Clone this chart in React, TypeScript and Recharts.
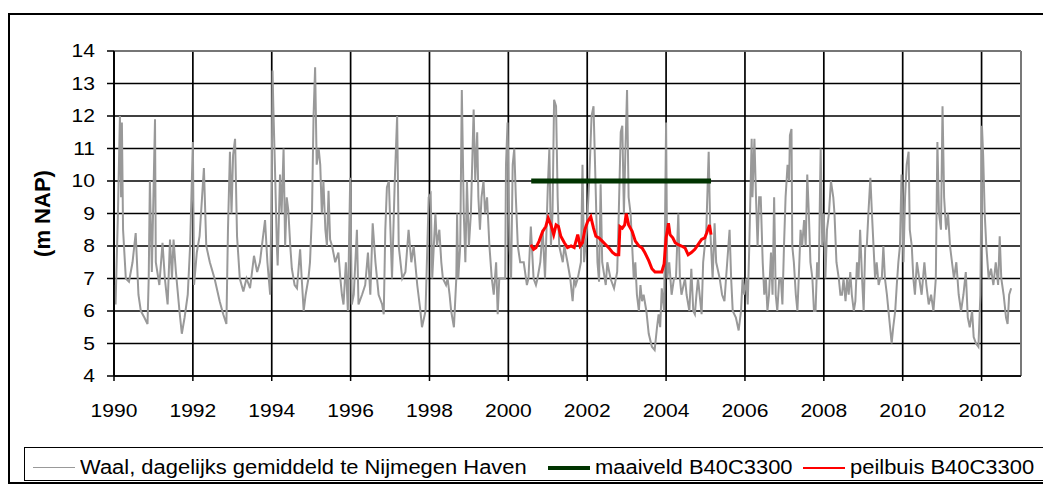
import React from 'react';
import {
  ComposedChart,
  Line,
  XAxis,
  YAxis,
  CartesianGrid,
  ReferenceLine,
  Legend,
  Customized,
} from 'recharts';

// ---------- DATA ----------
const xTicks = [1990, 1992, 1994, 1996, 1998, 2000, 2002, 2004, 2006, 2008, 2010, 2012];
const yTicks = [4, 5, 6, 7, 8, 9, 10, 11, 12, 13, 14];
const yAxisTitle = '(m NAP)';

const seriesNames = [
  'Waal, dagelijks gemiddeld te Nijmegen Haven',
  'maaiveld B40C3300',
  'peilbuis B40C3300',
];

// [year, m NAP]
const waalLevels: [number, number][] = [
  [1990.0, 6.8], [1990.04, 6.2], [1990.1, 9.0], [1990.15, 12.0], [1990.18, 9.5], [1990.2, 11.8],
  [1990.23, 8.5], [1990.3, 7.0], [1990.38, 6.9], [1990.47, 7.5], [1990.55, 8.4], [1990.62, 6.5],
  [1990.68, 6.0], [1990.77, 5.8], [1990.85, 5.6], [1990.88, 7.0], [1990.91, 10.0], [1990.96, 7.2],
  [1991.04, 11.9], [1991.06, 7.5], [1991.15, 6.8], [1991.23, 8.1], [1991.29, 7.0], [1991.36, 6.2],
  [1991.42, 8.2], [1991.47, 7.0], [1991.51, 8.2], [1991.57, 7.2], [1991.66, 6.0], [1991.72, 5.3],
  [1991.79, 5.8], [1991.87, 6.5], [1991.93, 8.0], [1992.0, 11.2], [1992.03, 6.8], [1992.1, 7.8],
  [1992.17, 8.3], [1992.28, 10.4], [1992.34, 8.0], [1992.43, 7.5], [1992.55, 7.0], [1992.68, 6.3],
  [1992.77, 5.9], [1992.85, 5.6], [1992.89, 8.5], [1992.94, 10.9], [1992.98, 9.0], [1993.02, 10.8],
  [1993.07, 11.3], [1993.12, 8.3], [1993.19, 7.0], [1993.28, 6.6], [1993.36, 7.0], [1993.45, 6.7],
  [1993.55, 7.7], [1993.63, 7.2], [1993.7, 7.5], [1993.83, 8.8], [1993.89, 7.5], [1993.96, 6.5],
  [1994.0, 10.0], [1994.02, 13.4], [1994.04, 12.3], [1994.08, 10.5], [1994.13, 8.0], [1994.15, 7.4],
  [1994.21, 10.2], [1994.25, 9.0], [1994.3, 11.0], [1994.34, 8.0], [1994.38, 9.5], [1994.42, 9.1],
  [1994.47, 8.0], [1994.51, 7.3], [1994.58, 6.8], [1994.64, 6.7], [1994.72, 7.9], [1994.76, 7.0],
  [1994.81, 6.0], [1994.86, 6.5], [1994.93, 7.0], [1994.97, 7.5], [1995.02, 9.0], [1995.06, 12.0],
  [1995.1, 13.5], [1995.14, 10.5], [1995.19, 11.0], [1995.23, 10.5], [1995.27, 9.0], [1995.31, 10.0],
  [1995.36, 8.5], [1995.4, 8.0], [1995.44, 9.7], [1995.48, 8.2], [1995.53, 8.0], [1995.61, 7.5],
  [1995.69, 7.8], [1995.74, 7.0], [1995.78, 6.5], [1995.82, 6.2], [1995.88, 7.5], [1995.93, 6.0],
  [1995.99, 10.1], [1996.03, 6.2], [1996.08, 6.5], [1996.16, 8.5], [1996.2, 6.2], [1996.29, 6.5],
  [1996.37, 6.8], [1996.44, 7.8], [1996.5, 6.5], [1996.56, 8.7], [1996.63, 7.5], [1996.71, 6.5],
  [1996.8, 6.2], [1996.84, 5.9], [1996.88, 8.5], [1996.92, 9.8], [1996.97, 10.0], [1997.01, 8.5],
  [1997.05, 7.0], [1997.12, 10.0], [1997.18, 12.0], [1997.22, 8.0], [1997.31, 7.0], [1997.39, 7.2],
  [1997.47, 8.5], [1997.54, 7.5], [1997.6, 8.0], [1997.69, 6.8], [1997.77, 6.0], [1997.81, 5.5],
  [1997.9, 6.0], [1997.98, 9.5], [1998.03, 9.6], [1998.07, 7.0], [1998.15, 9.0], [1998.19, 8.0],
  [1998.25, 8.5], [1998.3, 7.5], [1998.34, 7.0], [1998.42, 6.8], [1998.46, 7.0], [1998.51, 6.5],
  [1998.55, 6.0], [1998.62, 5.5], [1998.68, 7.0], [1998.7, 9.0], [1998.73, 7.0], [1998.78, 8.0],
  [1998.82, 12.8], [1998.87, 9.0], [1998.91, 7.5], [1998.95, 10.0], [1999.0, 8.0], [1999.05, 9.0],
  [1999.12, 12.2], [1999.16, 10.0], [1999.21, 11.5], [1999.24, 9.5], [1999.28, 8.5], [1999.32, 9.5],
  [1999.37, 10.0], [1999.41, 9.0], [1999.46, 9.5], [1999.52, 8.0], [1999.58, 7.0], [1999.63, 6.5],
  [1999.69, 7.5], [1999.73, 5.9], [1999.77, 7.0], [1999.86, 7.0], [1999.92, 7.0], [1999.94, 10.5],
  [1999.98, 11.8], [2000.03, 8.0], [2000.07, 7.0], [2000.11, 10.5], [2000.15, 11.0], [2000.19, 9.5],
  [2000.24, 8.0], [2000.3, 7.5], [2000.39, 7.5], [2000.47, 6.8], [2000.51, 7.0], [2000.57, 8.6],
  [2000.64, 7.0], [2000.7, 6.8], [2000.74, 7.0], [2000.81, 7.5], [2000.87, 8.5], [2000.93, 7.0],
  [2001.0, 9.8], [2001.04, 11.0], [2001.08, 8.0], [2001.12, 9.0], [2001.16, 12.5], [2001.21, 12.3],
  [2001.25, 9.5], [2001.29, 8.0], [2001.38, 7.5], [2001.42, 8.0], [2001.5, 7.5], [2001.57, 7.0],
  [2001.63, 6.3], [2001.67, 7.0], [2001.71, 6.8], [2001.76, 7.0], [2001.84, 7.5], [2001.88, 10.5],
  [2001.92, 7.5], [2001.99, 8.5], [2002.05, 10.0], [2002.11, 12.0], [2002.16, 12.3], [2002.22, 9.5],
  [2002.26, 7.5], [2002.3, 6.9], [2002.34, 9.9], [2002.38, 7.5], [2002.47, 6.8], [2002.51, 7.5],
  [2002.59, 7.0], [2002.68, 6.7], [2002.76, 7.2], [2002.8, 9.0], [2002.85, 11.5], [2002.89, 11.7],
  [2002.93, 9.0], [2002.97, 11.0], [2003.01, 12.8], [2003.05, 9.5], [2003.1, 9.0], [2003.14, 8.0],
  [2003.18, 7.0], [2003.22, 7.5], [2003.26, 6.5], [2003.31, 6.0], [2003.35, 6.8], [2003.39, 6.3],
  [2003.43, 6.5], [2003.5, 6.0], [2003.56, 5.3], [2003.64, 4.9], [2003.71, 4.8], [2003.77, 5.5],
  [2003.81, 5.9], [2003.85, 5.5], [2003.89, 6.7], [2003.95, 6.0], [2004.0, 11.8], [2004.03, 7.0],
  [2004.08, 7.5], [2004.14, 6.5], [2004.2, 7.0], [2004.25, 7.0], [2004.31, 9.0], [2004.35, 7.0],
  [2004.39, 6.5], [2004.48, 7.0], [2004.52, 6.5], [2004.59, 6.0], [2004.64, 7.3], [2004.69, 6.0],
  [2004.73, 5.9], [2004.77, 6.5], [2004.81, 7.0], [2004.9, 5.9], [2004.94, 7.5], [2004.98, 8.0],
  [2005.02, 8.5], [2005.08, 10.9], [2005.12, 8.5], [2005.18, 7.0], [2005.23, 8.7], [2005.27, 7.5],
  [2005.36, 7.0], [2005.42, 6.5], [2005.48, 6.3], [2005.52, 7.0], [2005.61, 8.5], [2005.65, 7.0],
  [2005.69, 6.0], [2005.77, 5.8], [2005.84, 5.4], [2005.9, 6.0], [2005.94, 7.0], [2005.98, 6.5],
  [2006.03, 7.0], [2006.07, 6.2], [2006.11, 8.0], [2006.17, 11.3], [2006.19, 9.5], [2006.24, 11.3],
  [2006.28, 9.5], [2006.32, 8.0], [2006.36, 9.5], [2006.4, 9.5], [2006.45, 7.5], [2006.49, 6.5],
  [2006.53, 7.0], [2006.57, 6.0], [2006.61, 6.5], [2006.66, 7.8], [2006.7, 6.5], [2006.74, 9.5],
  [2006.78, 6.5], [2006.82, 6.0], [2006.87, 7.0], [2006.91, 7.0], [2006.95, 6.2], [2006.99, 8.0],
  [2007.03, 9.5], [2007.08, 10.5], [2007.12, 10.0], [2007.14, 11.4], [2007.18, 11.6], [2007.2, 8.0],
  [2007.24, 7.5], [2007.29, 6.5], [2007.33, 6.0], [2007.37, 7.2], [2007.41, 8.5], [2007.45, 8.0],
  [2007.5, 8.8], [2007.54, 8.0], [2007.58, 10.2], [2007.62, 9.0], [2007.66, 7.5], [2007.71, 7.0],
  [2007.75, 6.0], [2007.79, 6.0], [2007.83, 7.5], [2007.87, 7.0], [2007.92, 11.0], [2007.96, 8.0],
  [2008.0, 9.0], [2008.04, 7.0], [2008.08, 8.5], [2008.13, 9.0], [2008.18, 10.0], [2008.24, 9.5],
  [2008.27, 9.0], [2008.32, 7.5], [2008.38, 7.0], [2008.42, 6.5], [2008.46, 6.5], [2008.5, 7.0],
  [2008.55, 6.3], [2008.59, 7.0], [2008.63, 6.5], [2008.67, 7.2], [2008.71, 6.5], [2008.76, 6.0],
  [2008.8, 6.3], [2008.84, 7.5], [2008.88, 7.0], [2008.92, 8.5], [2008.97, 7.0], [2009.01, 6.0],
  [2009.05, 8.0], [2009.09, 8.0], [2009.13, 9.0], [2009.18, 10.1], [2009.22, 9.0], [2009.26, 8.0],
  [2009.3, 7.0], [2009.34, 7.5], [2009.39, 6.8], [2009.43, 7.0], [2009.47, 7.0], [2009.51, 8.0],
  [2009.55, 7.0], [2009.6, 6.5], [2009.64, 6.0], [2009.68, 5.5], [2009.72, 5.0], [2009.76, 5.5],
  [2009.81, 6.0], [2009.85, 6.8], [2009.89, 7.5], [2009.93, 8.0], [2009.97, 10.2], [2010.02, 7.5],
  [2010.06, 9.5], [2010.1, 10.5], [2010.15, 10.9], [2010.18, 8.5], [2010.23, 8.0], [2010.27, 7.0],
  [2010.31, 6.5], [2010.36, 7.5], [2010.42, 7.0], [2010.48, 6.5], [2010.55, 7.5], [2010.6, 6.8],
  [2010.66, 6.2], [2010.72, 6.5], [2010.78, 6.0], [2010.84, 7.0], [2010.88, 11.2], [2010.92, 9.0],
  [2010.97, 8.5], [2011.01, 12.3], [2011.05, 9.5], [2011.1, 8.5], [2011.15, 9.0], [2011.2, 8.0],
  [2011.25, 7.5], [2011.3, 7.0], [2011.36, 7.5], [2011.42, 6.5], [2011.48, 6.0], [2011.54, 6.5],
  [2011.6, 7.2], [2011.65, 5.8], [2011.7, 5.5], [2011.76, 6.0], [2011.8, 5.2], [2011.86, 5.0],
  [2011.92, 4.9], [2011.97, 6.5], [2012.01, 11.7], [2012.04, 10.8], [2012.08, 9.0], [2012.12, 8.0],
  [2012.18, 7.0], [2012.24, 7.3], [2012.3, 6.8], [2012.36, 7.5], [2012.42, 6.8], [2012.46, 8.3],
  [2012.5, 7.0], [2012.56, 6.5], [2012.62, 5.8], [2012.66, 5.6], [2012.7, 6.5], [2012.75, 6.7],
];

const maaiveldLevels: [number, number][] = [
  [2000.58, 10.0], [2005.14, 10.0],
];

const peilbuisLevels: [number, number][] = [
  [2000.57, 8.04], [2000.64, 7.9], [2000.7, 7.95], [2000.78, 8.15], [2000.87, 8.45], [2000.95, 8.6],
  [2001.01, 8.86], [2001.08, 8.65], [2001.15, 8.35], [2001.21, 8.65], [2001.27, 8.6], [2001.33, 8.3],
  [2001.42, 8.1], [2001.5, 7.95], [2001.59, 8.0], [2001.67, 7.95], [2001.76, 8.35], [2001.82, 8.0],
  [2001.88, 8.1], [2001.94, 8.5], [2002.01, 8.75], [2002.09, 8.9], [2002.16, 8.55], [2002.22, 8.3],
  [2002.3, 8.25], [2002.38, 8.15], [2002.47, 8.04], [2002.55, 7.94], [2002.64, 7.8], [2002.72, 7.73],
  [2002.8, 7.73], [2002.83, 8.6], [2002.89, 8.55], [2002.95, 8.65], [2002.99, 9.0], [2003.05, 8.65],
  [2003.14, 8.45], [2003.22, 8.15], [2003.31, 8.0], [2003.39, 7.94], [2003.46, 7.8], [2003.56, 7.55],
  [2003.64, 7.3], [2003.72, 7.2], [2003.81, 7.2], [2003.89, 7.2], [2003.95, 7.45], [2004.0, 8.25],
  [2004.06, 8.7], [2004.1, 8.35], [2004.17, 8.25], [2004.23, 8.1], [2004.31, 8.04], [2004.39, 8.0],
  [2004.48, 7.94], [2004.56, 7.73], [2004.64, 7.8], [2004.73, 7.9], [2004.81, 8.04], [2004.9, 8.2],
  [2004.98, 8.25], [2005.03, 8.4], [2005.1, 8.65], [2005.14, 8.35],
];

const toRows = (pts: [number, number][]) => pts.map(([t, v]) => ({ t, v }));

const FONT = '"Liberation Sans", Arial, sans-serif';
const STRETCH = 1.17;

const XTick = (props: any) => {
  const { x, y, payload } = props;
  return (
    <g transform={`translate(${x},${y})`}>
      <text
        transform={`scale(${STRETCH},1)`}
        textAnchor="middle"
        dy="0.71em"
        fontSize={18}
        fontFamily={FONT}
        fill="#000"
      >
        {payload.value}
      </text>
    </g>
  );
};

const YTick = (props: any) => {
  const { x, y, payload } = props;
  return (
    <g transform={`translate(${x},${y})`}>
      <text
        transform={`scale(${STRETCH},1)`}
        textAnchor="end"
        dy="0.355em"
        fontSize={18}
        fontFamily={FONT}
        fill="#000"
      >
        {payload.value}
      </text>
    </g>
  );
};

// y-axis title, centred on the plot area's vertical middle
const YTitle = (props: any) => {
  const off = props.offset || {};
  const top = typeof off.top === 'number' ? off.top : 36;
  const h = typeof off.height === 'number' ? off.height : 325;
  const cx = 32.5;
  const cy = top + h / 2;
  return (
    <text
      x={cx}
      y={cy}
      transform={`rotate(-90, ${cx}, ${cy})`}
      textAnchor="middle"
      dominantBaseline="central"
      style={{ fontSize: '22px', fontWeight: 700, fontFamily: FONT, fill: '#000' }}
    >
      {yAxisTitle}
    </text>
  );
};

const legendText: React.CSSProperties = {
  position: 'absolute',
  top: 0,
  height: 39,
  lineHeight: '39px',
  fontSize: 19.5,
  fontFamily: FONT,
  color: '#000',
  whiteSpace: 'nowrap',
  transform: 'scaleX(1.125)',
  transformOrigin: '0 50%',
};

const sample = (left: number, color: string, h: number): React.CSSProperties => ({
  position: 'absolute',
  left,
  top: Math.round(19.5 - h / 2),
  width: 42,
  height: 0,
  borderTop: `${h}px solid ${color}`,
});

const renderLegend = () => (
  <div
    style={{
      position: 'relative',
      width: 1020,
      height: 34,
      boxSizing: 'border-box',
      border: '1px solid #000',
      background: '#fff',
    }}
  >
    <div style={sample(8, '#999999', 1)} />
    <span style={{ ...legendText, left: 55 }}>{seriesNames[0]}</span>
    <div style={sample(523, '#003300', 4)} />
    <span style={{ ...legendText, left: 570 }}>{seriesNames[1]}</span>
    <div style={sample(778, '#ff0000', 2)} />
    <span style={{ ...legendText, left: 825 }}>{seriesNames[2]}</span>
  </div>
);

export default function App() {
  return (
    <div
      style={{
        marginTop: 5,
        width: 1036,
        height: 467,
        border: '2px solid #000',
        background: '#fff',
      }}
    >
      <ComposedChart
        width={1036}
        height={467}
        margin={{ top: 36, right: 25, left: 0, bottom: 12 }}
      >
        <CartesianGrid stroke="#000" strokeWidth={1.7} />
        <XAxis
          type="number"
          dataKey="t"
          domain={[1990, 2013]}
          ticks={xTicks}
          allowDataOverflow
          height={60}
          tickSize={5}
          tickMargin={23}
          tick={<XTick />}
          axisLine={{ stroke: '#000', strokeWidth: 1.7 }}
          tickLine={{ stroke: '#000', strokeWidth: 1.5 }}
        />
        <YAxis
          type="number"
          domain={[4, 14]}
          ticks={yTicks}
          allowDataOverflow
          width={104}
          tickSize={7}
          tickMargin={12}
          tick={<YTick />}
          axisLine={{ stroke: '#000', strokeWidth: 1.7 }}
          tickLine={{ stroke: '#000', strokeWidth: 1.5 }}
        />
        <ReferenceLine y={14} stroke="#888888" strokeWidth={1.7} />
        <ReferenceLine x={2013} stroke="#888888" strokeWidth={1.7} />
        <Line
          data={toRows(waalLevels)}
          dataKey="v"
          name={seriesNames[0]}
          type="linear"
          stroke="#999999"
          strokeWidth={2}
          dot={false}
          isAnimationActive={false}
        />
        <Line
          data={toRows(maaiveldLevels)}
          dataKey="v"
          name={seriesNames[1]}
          type="linear"
          stroke="#003300"
          strokeWidth={5}
          dot={false}
          isAnimationActive={false}
        />
        <Line
          data={toRows(peilbuisLevels)}
          dataKey="v"
          name={seriesNames[2]}
          type="linear"
          stroke="#ff0000"
          strokeWidth={3}
          dot={false}
          isAnimationActive={false}
        />
        <Customized component={YTitle} />
        <Legend
          verticalAlign="bottom"
          content={renderLegend}
          wrapperStyle={{ left: 14, top: 432, width: 1020, height: 34 }}
        />
      </ComposedChart>
    </div>
  );
}
